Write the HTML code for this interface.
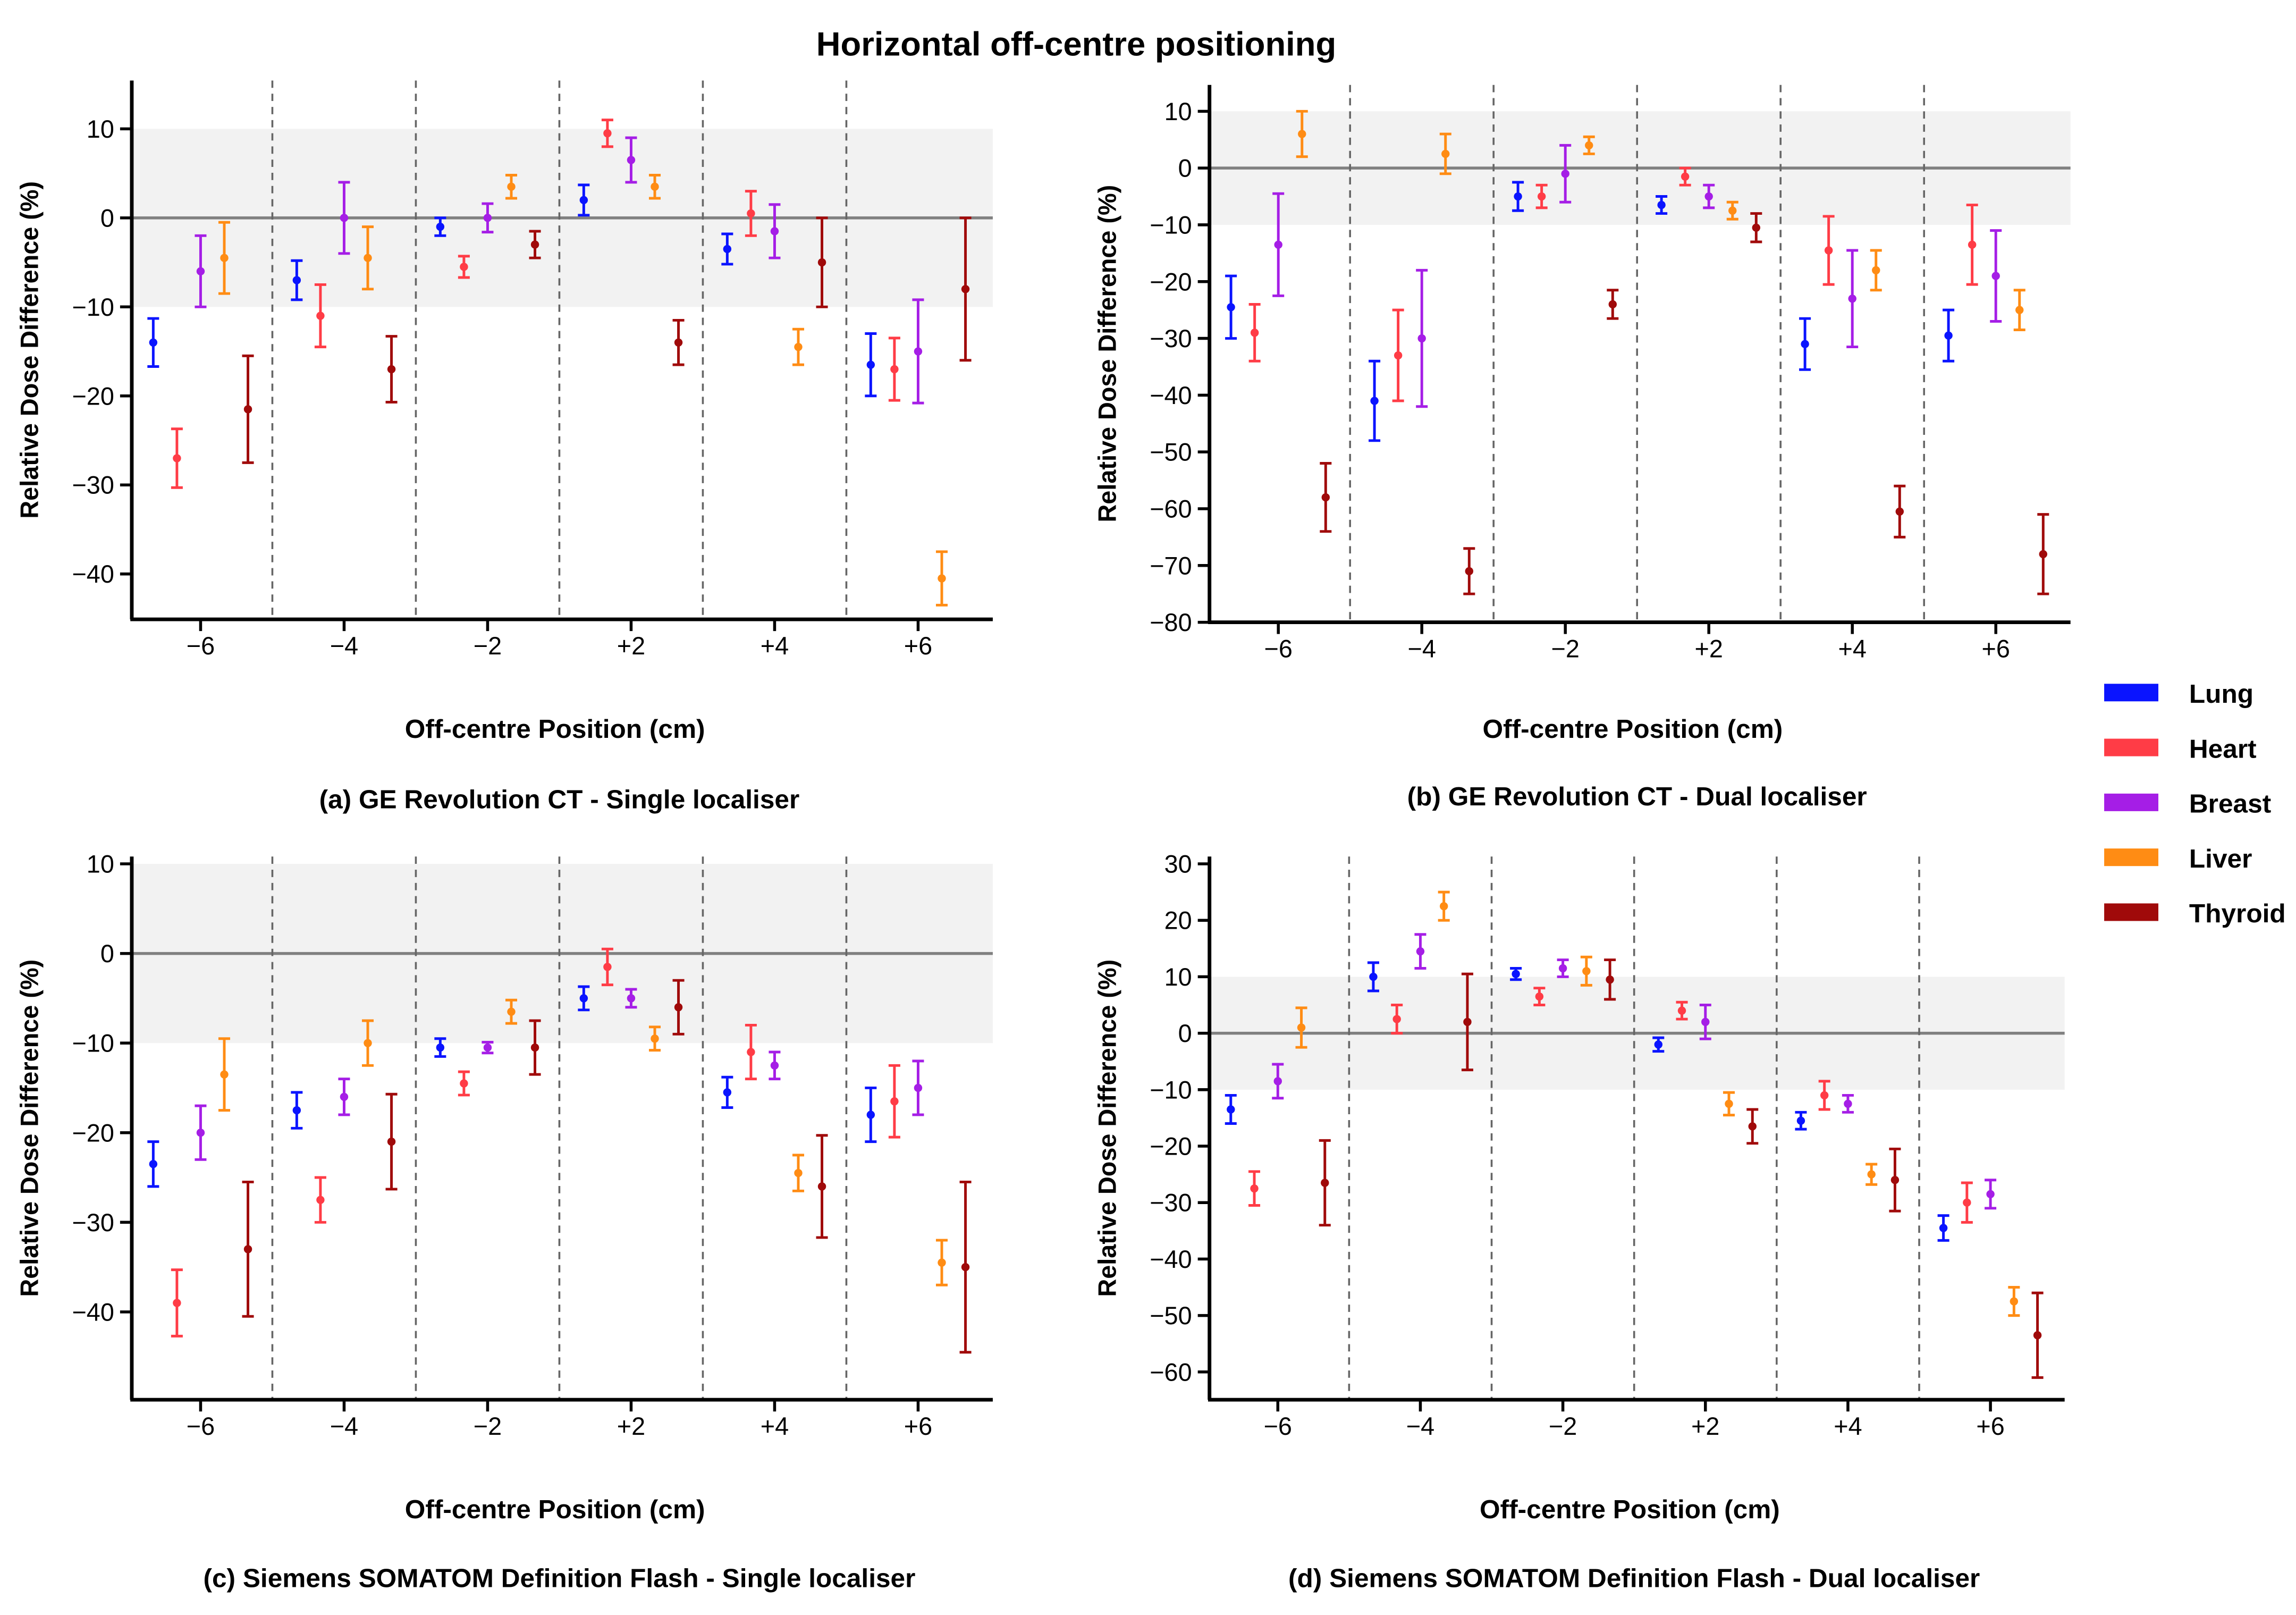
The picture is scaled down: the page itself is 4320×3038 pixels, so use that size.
<!DOCTYPE html>
<html><head><meta charset="utf-8"><style>
html,body{margin:0;padding:0;background:#fff;}
svg{display:block;font-family:"Liberation Sans",Arial,sans-serif;}
</style></head><body>
<svg id="fig" width="4320" height="3038" viewBox="0 0 1568 1103" preserveAspectRatio="none" xmlns="http://www.w3.org/2000/svg">
<rect width="1568" height="1103" fill="#fff"/>
<text x="735" y="38" text-anchor="middle" font-size="23" font-weight="bold">Horizontal off-centre positioning</text>
<g id="legend"></g>
</svg>
<script>
const categories = ['−6','−4','−2','+2','+4','+6'];
const seriesNames = ['Lung','Heart','Breast','Liver','Thyroid'];
const seriesColors = ['#0a14ff','#ff3c46','#a51ee6','#ff8c14','#a00a0a'];
const meanA = [[-14,-27,-6,-4.5,-21.5],[-7,-11,0,-4.5,-17],[-1,-5.5,0,3.5,-3],[2,9.5,6.5,3.5,-14],[-3.5,0.5,-1.5,-14.5,-5],[-16.5,-17,-15,-40.5,-8]];
const errA  = [[2.7,3.3,4,4,6],[2.2,3.5,4,3.5,3.7],[1,1.2,1.6,1.3,1.5],[1.7,1.5,2.5,1.3,2.5],[1.7,2.5,3,2,5],[3.5,3.5,5.8,3,8]];
const meanB = [[-24.5,-29,-13.5,6,-58],[-41,-33,-30,2.5,-71],[-5,-5,-1,4,-24],[-6.5,-1.5,-5,-7.5,-10.5],[-31,-14.5,-23,-18,-60.5],[-29.5,-13.5,-19,-25,-68]];
const errB  = [[5.5,5,9,4,6],[7,8,12,3.5,4],[2.5,2,5,1.5,2.5],[1.5,1.5,2,1.5,2.5],[4.5,6,8.5,3.5,4.5],[4.5,7,8,3.5,7]];
const meanC = [[-23.5,-39,-20,-13.5,-33],[-17.5,-27.5,-16,-10,-21],[-10.5,-14.5,-10.5,-6.5,-10.5],[-5,-1.5,-5,-9.5,-6],[-15.5,-11,-12.5,-24.5,-26],[-18,-16.5,-15,-34.5,-35]];
const errC  = [[2.5,3.7,3,4,7.5],[2,2.5,2,2.5,5.3],[1,1.3,0.6,1.3,3],[1.3,2,1,1.3,3],[1.7,3,1.5,2,5.7],[3,4,3,2.5,9.5]];
const meanD = [[-13.5,-27.5,-8.5,1,-26.5],[10,2.5,14.5,22.5,2],[10.5,6.5,11.5,11,9.5],[-2,4,2,-12.5,-16.5],[-15.5,-11,-12.5,-25,-26],[-34.5,-30,-28.5,-47.5,-53.5]];
const errD  = [[2.5,3,3,3.5,7.5],[2.5,2.5,3,2.5,8.5],[1,1.5,1.5,2.5,3.5],[1.2,1.5,3,2,3],[1.5,2.5,1.5,1.8,5.5],[2.2,3.5,2.5,2.5,7.5]];
const ticksA = [10,0,-10,-20,-30,-40];
const ticksB = [10,0,-10,-20,-30,-40,-50,-60,-70,-80];
const ticksC = [10,0,-10,-20,-30,-40];
const ticksD = [30,20,10,0,-10,-20,-30,-40,-50,-60];

const NS='http://www.w3.org/2000/svg';
const svg=document.getElementById('fig');
function mk(tag,attrs,parent,txt){const e=document.createElementNS(NS,tag);for(const k in attrs)e.setAttribute(k,attrs[k]);if(txt!==undefined)e.textContent=txt;(parent||svg).appendChild(e);return e;}

const panels=[
 {id:'a',x0:90,x1:678,top:55,bot:423,vTop:10,yTop:88,vRef:-40,yRef:392,vMin:-45,means:meanA,errs:errA,ticks:ticksA,cap:'(a) GE Revolution CT - Single localiser',capY:552,xtY:504},
 {id:'b',x0:826,x1:1414,top:58,bot:425,vTop:10,yTop:76,vRef:-80,yRef:425,vMin:-80,means:meanB,errs:errB,ticks:ticksB,cap:'(b) GE Revolution CT - Dual localiser',capY:550,xtY:504},
 {id:'c',x0:90,x1:678,top:585,bot:956,vTop:10,yTop:590,vRef:-40,yRef:896,vMin:-49.6,means:meanC,errs:errC,ticks:ticksC,cap:'(c) Siemens SOMATOM Definition Flash - Single localiser',capY:1084,xtY:1037},
 {id:'d',x0:826,x1:1410,top:585,bot:956,vTop:30,yTop:590,vRef:-60,yRef:937,vMin:-65,means:meanD,errs:errD,ticks:ticksD,cap:'(d) Siemens SOMATOM Definition Flash - Dual localiser',capY:1084,xtY:1037}
];
panels.forEach(p=>{
 const g=mk('g',{});
 
 
 const sy=v=>p.yTop+(v-p.vTop)*(p.yRef-p.yTop)/(p.vRef-p.vTop);
 const gw=(p.x1-p.x0)/6;
 const cx=i=>p.x0+gw*(i+0.5)-2;
 const off=k=>(k-2)*gw*0.165;
 const band=mk('rect',{x:p.x0,y:sy(10),width:p.x1-p.x0,height:sy(-10)-sy(10),fill:'#f2f2f2'},g);
 
 
 const zl=mk('line',{x1:p.x0,x2:p.x1,y1:sy(0),y2:sy(0),stroke:'#808080','stroke-width':2},g);
 
 
 for(let i=1;i<6;i++){const d=mk('line',{x1:p.x0+gw*i-2,x2:p.x0+gw*i-2,y1:p.top,y2:p.bot,stroke:'#666','stroke-width':1.3,'stroke-dasharray':'5,4'},g);
  
  }
 const ya=mk('line',{x1:p.x0,x2:p.x0,y1:p.top,y2:p.bot,stroke:'#000','stroke-width':2.5},g);
 
 
 const xa=mk('line',{x1:p.x0-1,x2:p.x1,y1:p.bot,y2:p.bot,stroke:'#000','stroke-width':2.5},g);
 
 
 p.ticks.forEach(t=>{const y=sy(t);
  mk('line',{x1:p.x0-8,x2:p.x0,y1:y,y2:y,stroke:'#000','stroke-width':2},g);
  const tl=mk('text',{x:p.x0-12,y:y+6,'text-anchor':'end','font-size':17},g,t<0?'−'+(-t):String(t));
  
  });
 categories.forEach((c,i)=>{
  mk('line',{x1:cx(i),x2:cx(i),y1:p.bot,y2:p.bot+8,stroke:'#000','stroke-width':2},g);
  const tl=mk('text',{x:cx(i),y:p.bot+24,'text-anchor':'middle','font-size':17},g,c);
  
  
  p.means[i].forEach((m,k)=>{
   const e=p.errs[i][k],x=cx(i)+off(k),col=seriesColors[k];
   const eg=mk('g',{stroke:col,'stroke-width':1.8},g);
   
   
   mk('line',{x1:x,x2:x,y1:sy(m+e),y2:sy(m-e)},eg);
   mk('line',{x1:x-4,x2:x+4,y1:sy(m+e),y2:sy(m+e)},eg);
   mk('line',{x1:x-4,x2:x+4,y1:sy(m-e),y2:sy(m-e)},eg);
   const pt=mk('circle',{cx:x,cy:sy(m),r:2.8,fill:col,stroke:'none'},g);
   
   
  });
 });
 const yt=mk('text',{x:0,y:0,'text-anchor':'middle','font-size':17,'font-weight':'bold',transform:`translate(${p.x0-64},${(p.top+p.bot)/2}) rotate(-90)`},g,'Relative Dose Difference (%)');
 
 
 const xt=mk('text',{x:(p.x0+p.x1)/2-5,y:p.xtY,'text-anchor':'middle','font-size':18,'font-weight':'bold'},g,'Off-centre Position (cm)');
 
 
 const cp=mk('text',{x:(p.x0+p.x1)/2-2,y:p.capY,'text-anchor':'middle','font-size':18,'font-weight':'bold'},g,p.cap);
 
 
});
const lg=document.getElementById('legend');
seriesNames.forEach((n,k)=>{
 const y=473+k*37.5;
 const sw=mk('rect',{x:1437,y:y-6,width:37,height:12,fill:seriesColors[k]},lg);
 
 
 const t=mk('text',{x:1495,y:y+7,'font-size':18,'font-weight':'bold'},lg,n);
 
 
});
</script>
</body></html>
